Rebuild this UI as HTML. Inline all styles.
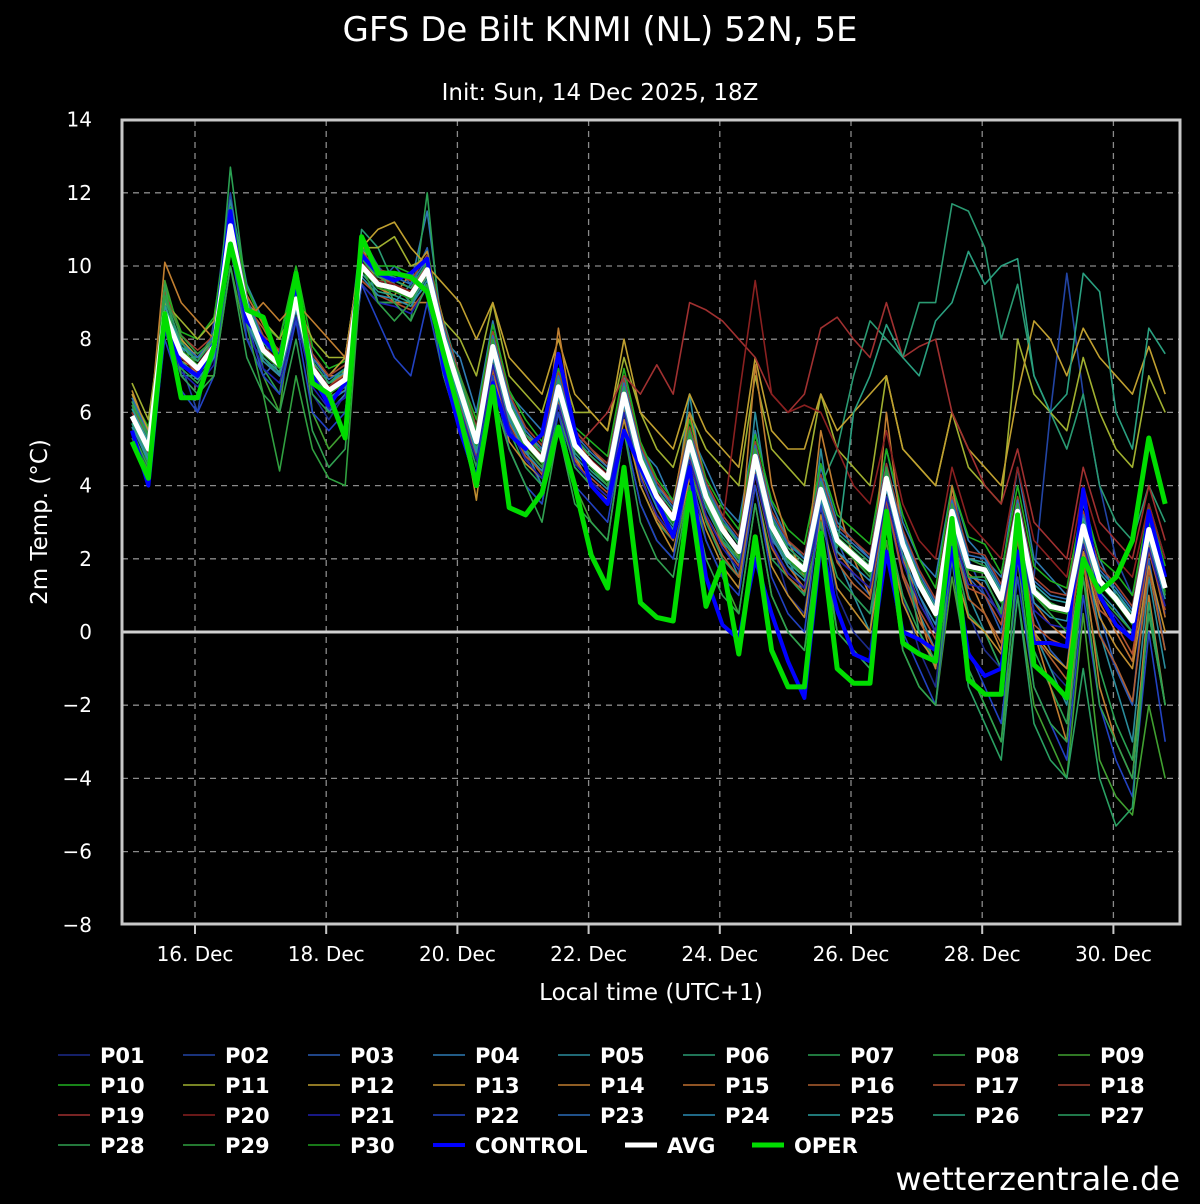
<!DOCTYPE html>
<html><head><meta charset="utf-8">
<style>
html,body{margin:0;padding:0;background:#000;}
body{width:1200px;height:1200px;overflow:hidden;font-family:"DejaVu Sans","Liberation Sans",sans-serif;}
svg text{font-family:"DejaVu Sans","Liberation Sans",sans-serif;fill:#fff;}
</style></head>
<body>
<svg id="chart" width="1200" height="1200" xmlns="http://www.w3.org/2000/svg">
<rect x="0" y="0" width="1200" height="1200" fill="#000"/>
<text x="600" y="41" font-size="34" text-anchor="middle">GFS De Bilt KNMI (NL) 52N, 5E</text>
<text x="600" y="100" font-size="23" text-anchor="middle">Init: Sun, 14 Dec 2025, 18Z</text>
<g id="grid"></g>
<g id="members"></g>
<g id="main"></g>
<rect x="122" y="120" width="1058" height="804" fill="none" stroke="#c8c8c8" stroke-width="3"/>
<g id="axes"></g>
<text transform="translate(47,522) rotate(-90)" font-size="23" text-anchor="middle">2m Temp. (°C)</text>
<text x="651" y="1000" font-size="23" text-anchor="middle">Local time (UTC+1)</text>
<g id="legend"></g>
<text x="1180" y="1190" font-size="32" text-anchor="end">wetterzentrale.de</text>
</svg>
<script>
const yTicks=[14,12,10,8,6,4,2,0,-2,-4,-6,-8];
const dayLabels=["16. Dec","18. Dec","20. Dec","22. Dec","24. Dec","26. Dec","28. Dec","30. Dec"];
const dayOffsets=[1,3,5,7,9,11,13,15];
const avg=[5.9,5.0,8.7,7.6,7.2,7.8,11.1,8.8,7.7,7.3,9.1,7.2,6.6,6.9,10.0,9.5,9.4,9.2,9.9,8.0,6.6,5.2,7.8,6.1,5.2,4.7,6.7,5.1,4.6,4.2,6.5,4.7,3.7,3.1,5.2,3.7,2.8,2.2,4.8,2.9,2.1,1.7,3.9,2.5,2.1,1.7,4.2,2.4,1.3,0.5,3.3,1.8,1.7,0.9,3.3,1.1,0.7,0.6,2.9,1.4,0.9,0.3,2.8,1.2];
const oper=[5.2,4.2,8.7,6.4,6.4,7.8,10.6,8.8,8.6,7.3,9.8,6.8,6.5,5.3,10.8,9.8,9.8,9.7,9.3,7.6,5.9,4.0,6.7,3.4,3.2,3.8,5.6,4.0,2.1,1.2,4.5,0.8,0.4,0.3,3.8,0.7,1.9,-0.6,2.6,-0.5,-1.5,-1.5,2.7,-1.0,-1.4,-1.4,3.3,-0.3,-0.6,-0.8,3.1,-1.3,-1.7,-1.7,3.2,-0.9,-1.3,-1.8,2.0,1.1,1.5,2.5,5.3,3.5];
const control=[5.5,4.0,8.5,7.3,7.0,7.9,11.5,8.5,8.0,7.5,9.5,7.0,6.2,6.8,10.3,9.8,9.6,9.8,10.2,7.2,5.5,4.2,6.8,5.4,5.0,5.4,7.6,5.5,4.0,3.5,5.5,4.5,3.6,2.6,4.5,1.5,0.2,-0.2,2.0,0.5,-0.8,-1.8,2.4,0.6,-0.6,-0.8,2.2,0.0,-0.2,-0.5,2.3,-0.6,-1.2,-1.0,2.2,-0.3,-0.3,-0.4,3.9,1.0,0.2,-0.2,3.3,1.5];
const P01=[6.0,4.8,9.0,7.0,6.5,7.5,11.5,8.0,7.5,7.0,9.5,6.5,5.8,6.5,10.5,9.0,8.5,9.0,10.2,7.5,6.0,4.5,7.0,5.5,4.8,4.0,6.0,4.5,4.0,3.5,6.0,4.0,3.0,2.5,5.0,3.0,2.0,1.5,4.5,2.5,1.0,0.5,3.5,1.0,0.0,-0.5,3.0,1.0,-0.5,-1.5,2.5,0.5,-0.5,-1.0,2.5,0.0,-1.0,-1.5,2.0,0.0,-1.0,-2.0,2.5,0.5];
const P02=[5.5,4.2,8.8,7.3,6.0,8.5,12.0,9.0,8.0,7.5,9.2,7.5,6.0,7.0,10.8,10.0,9.5,9.0,9.8,8.5,7.0,5.5,8.0,6.5,5.0,5.0,7.0,5.5,5.0,4.5,7.0,5.0,4.0,3.5,5.5,4.0,3.0,2.5,5.0,3.5,2.5,2.0,4.0,2.0,1.0,0.5,3.5,1.5,0.5,-0.5,4.0,2.0,1.0,0.5,3.0,1.5,6.0,9.8,6.5,4.0,2.0,1.0,3.0,1.0];
const P03=[6.5,5.5,9.5,8.0,7.5,8.0,10.5,8.5,7.0,7.5,8.5,7.0,6.5,7.0,10.0,9.5,10.0,9.5,10.5,8.0,6.5,5.0,8.0,6.0,5.5,5.0,7.5,5.5,5.0,4.5,6.5,5.0,4.0,3.0,5.0,3.5,2.5,2.0,5.0,2.5,2.0,1.5,4.0,2.5,1.5,1.0,4.5,2.5,1.0,0.0,3.5,1.5,1.0,0.0,3.5,0.5,-0.5,-1.0,3.0,0.5,-1.0,-2.0,2.0,-0.5];
const P04=[6.2,5.0,9.2,7.8,7.0,7.0,11.0,9.0,8.0,7.0,9.0,7.5,6.0,6.5,9.5,9.0,9.0,9.5,11.5,8.0,7.5,6.0,8.5,6.5,6.0,5.5,7.0,5.0,4.5,4.0,7.0,5.0,4.5,3.5,5.5,4.5,3.5,3.0,5.5,3.5,2.5,2.0,4.5,3.0,2.5,2.0,5.0,3.0,2.0,1.5,4.0,2.5,2.0,1.5,4.5,2.0,1.5,1.0,3.5,2.0,1.0,0.5,3.5,2.0];
const P05=[5.8,5.2,8.5,7.0,7.0,8.0,11.8,9.5,8.5,8.0,9.8,7.0,7.0,7.5,10.5,9.0,9.0,9.0,9.5,7.5,6.0,5.0,7.5,5.5,5.0,4.0,6.5,4.5,4.0,3.5,7.0,4.5,3.5,3.0,6.5,3.5,2.5,1.5,6.0,3.0,2.0,1.0,5.0,2.0,1.0,0.0,4.0,2.0,0.5,-0.5,3.0,1.0,0.0,-1.0,3.0,0.0,-1.0,-2.0,2.5,0.0,-1.5,-3.0,1.5,-1.0];
const P06=[6.0,5.5,9.0,7.5,7.5,8.0,10.8,8.5,7.5,7.0,9.0,7.0,6.8,7.0,11.0,10.5,9.5,9.0,9.5,8.5,7.0,5.5,8.0,6.5,5.5,5.0,7.0,5.0,4.5,4.0,6.0,4.5,3.5,3.0,5.0,3.5,3.0,2.5,4.5,3.0,2.5,2.0,4.0,5.0,7.0,8.5,8.0,7.5,9.0,9.0,11.7,11.5,10.5,8.0,9.5,7.0,6.0,5.0,6.5,4.0,3.0,2.5,4.0,3.0];
const P07=[5.7,4.6,8.3,7.2,6.8,7.5,12.7,9.2,7.2,6.5,9.5,6.5,6.0,6.0,9.5,9.0,9.0,8.5,12.0,7.5,6.0,4.5,7.5,5.5,4.5,4.0,6.0,4.5,4.0,3.5,6.0,4.0,3.0,2.5,4.5,3.0,2.0,1.5,4.0,2.0,1.5,1.0,3.0,1.5,1.0,0.5,3.0,1.0,0.0,-1.0,2.5,0.5,0.0,-1.0,2.0,-0.5,-1.5,-2.5,1.5,-1.0,-2.5,-3.5,0.5,-2.0];
const P08=[6.1,5.0,8.8,7.6,7.4,8.2,11.2,8.8,7.8,7.4,9.2,7.4,6.8,7.0,10.2,9.6,9.6,9.4,10.0,8.2,6.8,5.4,8.0,6.2,5.4,4.8,6.8,5.2,4.8,4.4,6.6,4.8,3.8,3.2,5.4,3.8,3.0,2.4,5.0,3.0,2.2,1.8,4.0,2.6,2.2,1.8,4.4,2.6,1.4,0.6,3.4,2.0,1.8,1.0,3.4,1.2,0.8,0.6,3.0,1.4,1.0,0.4,2.8,1.2];
const P09=[5.3,4.4,9.6,8.0,7.0,7.0,10.0,8.0,7.0,6.0,9.8,6.0,5.0,5.5,10.5,10.0,9.0,9.0,10.0,7.0,5.5,4.0,6.5,5.0,4.0,3.5,6.0,4.0,3.0,2.5,5.5,3.5,2.5,2.0,4.0,2.5,1.5,0.5,3.5,1.0,0.0,-0.5,2.5,0.0,-0.5,-1.0,2.5,-0.5,-1.5,-2.0,1.5,-1.0,-2.0,-3.0,1.0,-2.0,-3.0,-4.0,0.5,-3.5,-4.5,-5.0,-2.0,-4.0];
const P10=[6.4,5.6,9.4,8.2,8.0,8.6,11.6,9.4,8.4,8.0,10.0,7.8,7.2,7.4,10.6,10.0,10.0,9.8,10.4,8.4,7.0,5.8,8.4,6.6,5.8,5.2,7.2,5.6,5.2,4.8,7.2,5.2,4.2,3.6,5.8,4.2,3.4,2.8,5.4,3.6,2.8,2.4,4.6,3.2,2.8,2.4,5.0,3.2,2.0,1.2,4.0,2.6,2.4,1.6,4.0,1.8,1.4,1.2,3.6,2.0,1.6,1.0,3.4,1.8];
const P11=[6.8,5.8,9.0,8.5,8.0,8.5,10.5,9.0,8.5,8.0,9.0,8.0,7.5,7.5,10.5,10.5,10.8,10.0,10.2,8.5,8.0,7.0,9.0,7.0,6.5,6.0,7.5,6.0,6.0,5.5,7.5,6.0,5.0,4.5,6.0,5.0,4.5,4.0,7.0,5.0,4.5,4.0,6.5,5.0,4.5,4.0,7.0,5.0,4.5,4.0,6.0,4.5,4.0,3.5,8.0,6.5,6.0,5.5,7.5,6.0,5.0,4.5,7.0,6.0];
const P12=[6.5,5.5,8.5,8.0,7.5,8.0,11.0,9.0,8.0,7.5,9.5,7.5,7.0,7.5,10.5,11.0,11.2,10.5,10.0,9.5,9.0,8.0,9.0,7.5,7.0,6.5,8.0,6.5,6.0,5.5,8.0,6.0,5.5,5.0,6.5,5.5,5.0,4.5,7.5,5.5,5.0,5.0,6.5,5.5,6.0,6.5,7.0,5.0,4.5,4.0,6.0,5.0,4.5,4.0,6.5,8.5,8.0,7.0,8.3,7.5,7.0,6.5,7.8,6.5];
const P13=[6.6,5.4,8.6,7.4,7.2,8.0,11.4,8.6,7.6,7.2,9.4,7.4,6.4,7.2,10.6,9.4,9.2,9.8,10.4,7.8,6.2,3.6,7.2,5.2,4.6,4.2,6.6,4.8,4.0,3.6,5.8,4.0,3.0,2.2,4.2,2.8,1.8,1.2,4.0,1.8,1.0,0.4,3.2,1.2,0.6,0.0,2.8,0.8,-0.2,-0.8,2.0,0.4,0.0,-0.6,2.2,0.0,-0.6,-1.0,2.2,0.4,-0.4,-1.0,1.8,0.0];
const P14=[6.0,5.2,10.1,9.0,8.5,8.0,10.5,8.5,9.0,8.5,9.0,8.5,8.0,7.5,10.0,9.5,9.0,9.0,9.0,8.0,6.5,5.0,7.5,6.0,5.0,4.5,8.3,5.5,5.0,4.5,6.5,5.0,4.0,3.5,6.0,4.0,3.0,2.0,7.3,4.0,2.5,1.5,5.5,3.5,2.0,1.0,6.0,2.5,0.5,-1.0,4.0,1.5,0.5,-0.5,3.5,0.0,-1.5,-3.0,2.0,-1.5,-3.0,-4.0,1.0,-2.0];
const P15=[5.9,5.0,8.6,7.6,7.0,7.6,11.2,9.2,8.4,7.6,9.6,7.6,7.0,7.0,10.4,9.8,9.6,9.4,10.0,8.4,6.4,5.2,8.2,6.2,5.4,5.0,6.8,5.4,4.6,4.2,6.6,4.8,3.4,2.6,5.4,3.6,2.4,1.8,4.6,2.6,1.8,1.2,3.8,2.2,1.6,1.2,4.4,2.0,0.8,0.0,3.6,1.6,1.2,0.4,3.2,0.8,0.2,-0.2,2.6,0.8,0.0,-0.8,2.4,0.4];
const P16=[6.3,5.1,8.9,7.7,7.3,7.9,11.3,8.9,8.3,7.5,9.3,7.3,6.7,7.1,10.3,9.7,9.5,9.3,9.7,7.9,6.1,4.9,7.5,5.7,4.9,4.3,6.3,4.7,4.1,3.7,6.1,4.3,3.1,2.5,4.7,3.1,2.1,1.5,4.3,2.3,1.5,1.1,3.5,1.9,1.3,0.9,3.7,1.5,0.3,-0.5,2.7,0.9,0.5,-0.3,2.5,-0.1,-0.7,-1.3,1.9,-0.1,-0.9,-1.9,1.7,-0.5];
const P17=[5.6,4.8,8.4,7.4,7.0,7.6,10.8,8.6,7.4,7.0,8.8,6.8,6.4,6.6,9.6,9.2,9.0,8.8,9.4,7.6,6.2,4.8,7.2,5.6,4.8,4.4,6.2,4.6,4.2,3.8,6.0,4.2,3.2,2.6,4.8,3.2,2.4,1.8,4.4,2.4,1.6,1.2,3.4,2.0,1.6,1.2,3.6,1.6,0.6,-0.2,3.0,1.2,1.0,0.2,2.8,0.2,-0.2,-0.4,2.4,0.6,0.2,-0.6,2.2,0.6];
const P18=[6.2,5.3,9.3,8.1,7.7,8.1,11.5,9.1,8.1,7.7,9.5,7.6,7.0,7.3,10.4,9.9,9.8,9.6,10.3,8.4,7.0,5.6,8.2,6.5,5.6,5.1,7.1,5.5,5.0,4.6,6.9,5.1,4.1,3.5,5.6,4.1,3.2,2.6,5.2,3.3,2.5,2.1,4.3,2.9,2.5,2.1,4.6,2.8,1.7,0.9,3.7,2.2,2.1,1.3,3.7,1.5,1.1,1.0,3.3,1.8,1.3,0.7,3.2,1.6];
const P19=[5.8,4.9,8.5,7.5,7.1,7.7,10.9,8.7,7.6,7.2,9.0,7.1,6.5,6.8,10.0,9.4,9.3,9.1,9.8,7.9,6.5,5.1,7.7,6.0,5.1,4.6,6.6,5.0,5.5,6.0,7.0,6.5,7.3,6.5,9.0,8.8,8.5,8.0,7.5,6.5,6.0,6.5,8.3,8.6,8.0,7.5,9.0,7.5,7.8,8.0,6.0,5.0,4.0,3.5,5.0,3.0,2.5,2.0,4.5,3.0,2.5,2.0,4.0,2.5];
const P20=[6.0,5.1,8.8,7.7,7.3,7.9,11.2,8.9,7.8,7.4,9.2,7.3,6.7,7.0,10.1,9.6,9.5,9.3,10.0,8.1,6.7,5.3,7.9,6.2,5.3,4.8,6.8,5.2,4.7,4.3,6.6,4.8,3.8,3.2,5.3,3.8,2.9,6.4,9.6,6.5,6.0,6.2,6.0,5.0,4.0,3.5,5.5,3.5,2.5,2.0,4.5,3.0,2.5,2.0,4.5,2.5,2.0,1.5,4.0,2.5,2.0,1.5,3.5,2.0];
const P21=[5.4,4.5,8.2,7.1,6.7,7.3,10.6,8.3,7.2,6.8,8.6,6.7,6.1,6.4,9.5,9.0,8.9,8.7,9.4,7.5,6.1,4.7,7.3,5.6,4.7,4.2,6.2,4.6,4.1,3.7,6.0,4.2,3.2,2.6,4.7,3.2,2.3,1.7,4.3,2.4,1.6,1.2,3.4,2.0,1.6,1.2,3.7,1.9,0.8,0.0,2.8,1.3,1.2,0.4,2.8,0.6,0.2,0.1,2.4,0.9,0.4,-0.2,2.3,0.7];
const P22=[5.2,4.1,8.0,6.6,6.0,7.0,10.5,8.0,7.0,6.5,8.5,6.0,5.5,6.0,9.5,8.5,7.5,7.0,9.0,7.0,5.5,4.0,7.0,5.0,4.0,3.5,6.0,4.0,3.5,3.0,5.5,3.5,2.5,2.0,4.5,2.5,1.5,1.0,4.0,1.5,0.5,0.0,3.5,0.5,-0.5,-1.0,3.0,0.0,-1.0,-2.0,2.0,-0.5,-1.5,-2.5,1.5,-1.5,-2.5,-3.5,1.0,-2.0,-3.5,-4.5,0.0,-3.0];
const P23=[6.4,5.4,9.1,7.9,7.5,8.1,11.4,9.1,8.0,7.6,9.4,7.5,6.9,7.2,10.3,9.8,9.7,9.5,10.2,8.3,6.9,5.5,8.1,6.4,5.5,5.0,7.0,5.4,4.9,4.5,6.8,5.0,4.0,3.4,5.5,4.0,3.1,2.5,5.1,3.2,2.4,2.0,4.2,2.8,2.4,2.0,4.5,2.7,1.6,0.8,3.6,2.1,2.0,1.2,3.6,1.4,1.0,0.9,3.2,1.7,1.2,0.6,3.1,1.5];
const P24=[5.6,4.7,8.4,7.3,6.9,7.5,10.8,8.5,7.4,7.0,8.8,6.9,6.3,6.6,9.7,9.2,9.1,8.9,9.6,7.7,6.3,4.9,7.5,5.8,4.9,4.4,6.4,4.8,4.3,3.9,6.2,4.4,3.4,2.8,4.9,3.4,2.5,1.9,4.5,2.6,1.8,1.4,3.6,2.2,1.8,1.4,3.9,2.1,1.0,0.2,3.0,1.5,1.4,0.6,3.0,0.8,0.4,0.3,2.6,1.1,0.6,0.0,2.5,0.9];
const P25=[6.1,5.2,8.9,7.8,7.4,8.0,11.3,9.0,7.9,7.5,9.3,7.4,6.8,7.1,10.2,9.7,9.6,9.4,10.1,8.2,6.8,5.4,8.0,6.3,5.4,4.9,6.9,5.3,4.8,4.4,6.7,4.9,3.9,3.3,5.4,3.9,3.0,2.4,5.0,3.1,2.3,1.9,4.1,2.7,2.3,1.9,4.4,2.6,1.5,0.7,3.5,2.0,1.9,1.1,3.5,1.3,0.9,0.8,3.1,1.6,1.1,0.5,3.0,1.4];
const P26=[5.7,4.8,8.5,7.4,7.0,7.6,10.9,8.6,7.5,7.1,8.9,7.0,6.4,6.7,9.8,9.3,9.2,9.0,9.7,7.8,6.4,5.0,7.6,5.9,5.0,4.5,6.5,4.9,4.4,4.0,6.3,4.5,3.5,2.9,5.0,3.5,2.6,2.0,4.6,2.7,1.9,1.5,3.7,2.3,6.0,7.0,8.4,7.5,7.0,8.5,9.0,10.4,9.5,10.0,10.2,7.0,6.0,6.5,9.8,9.3,6.0,5.0,8.3,7.6];
const P27=[6.3,5.3,9.1,7.9,7.4,8.0,11.3,9.0,7.9,7.5,9.4,7.4,6.8,7.2,10.2,9.7,9.6,9.4,10.1,8.2,6.8,5.4,8.0,6.3,5.4,4.9,6.9,5.3,4.8,4.4,6.7,4.9,3.9,3.3,5.4,3.9,3.0,2.4,5.0,3.1,2.3,1.9,4.1,2.7,2.3,1.9,4.4,2.4,0.0,-0.8,2.0,-1.5,-2.5,-3.5,1.0,-2.5,-3.5,-4.0,-1.0,-4.0,-5.3,-4.8,0.8,-2.0];
const P28=[5.5,4.5,9.5,7.0,6.5,7.0,10.0,7.5,6.5,6.0,8.0,5.5,4.5,5.0,10.5,10.0,9.0,8.5,9.5,7.0,5.5,4.0,6.5,5.0,4.0,3.0,5.5,3.5,3.0,2.5,5.5,3.0,2.0,1.5,4.0,2.0,1.0,0.5,3.5,1.0,0.0,-0.5,3.0,0.0,-0.5,-1.0,3.0,-0.5,-1.5,-2.0,2.5,-1.0,-2.0,-3.0,2.0,-1.5,-2.5,-3.0,1.5,-2.0,-3.0,-4.0,0.5,-2.0];
const P29=[6.2,5.4,9.2,8.1,7.6,8.0,11.5,8.4,6.5,4.4,7.0,5.0,4.2,4.0,10.0,9.0,8.5,9.0,10.0,8.0,7.0,5.5,8.0,6.0,5.0,4.5,6.5,5.0,4.5,4.0,6.5,4.5,3.5,3.0,5.5,3.5,2.5,2.0,5.0,3.0,2.0,1.5,4.0,2.5,2.0,1.5,4.5,2.5,1.5,0.5,3.5,1.5,1.5,0.5,3.5,1.0,0.5,0.0,3.0,1.0,0.5,0.0,3.0,1.0];
const P30=[5.9,5.1,8.7,7.7,7.3,7.7,11.0,8.7,7.6,7.2,9.0,7.1,6.5,6.8,9.9,9.4,9.3,9.1,9.8,7.9,6.5,5.1,7.7,6.0,5.1,4.6,6.6,5.0,4.5,4.1,6.4,4.6,3.6,3.0,5.1,3.6,2.7,2.1,4.7,2.8,2.0,1.6,3.8,2.4,2.0,1.6,4.1,2.3,1.2,0.4,3.2,1.7,1.6,0.8,3.2,1.0,0.6,0.5,2.8,1.3,0.8,0.2,2.7,1.1];
const members=[P01,P02,P03,P04,P05,P06,P07,P08,P09,P10,P11,P12,P13,P14,P15,P16,P17,P18,P19,P20,P21,P22,P23,P24,P25,P26,P27,P28,P29,P30];
const memberColors=["#1c2a8a","#2244a4","#2a5cb4","#2e7ab2","#2a8c9c","#2a9a72","#2aa052","#30a042","#40a030","#20b020","#a0b030","#c0a030","#c08e30","#c07e30","#c07030","#b06030","#b05030","#a04030","#a03030","#8a2020","#2020b0","#2242c2","#2a6cb8","#2a8cb2","#2aa0a0","#2aa080","#2aa062","#30a050","#30a040","#20a020"];

const NS="http://www.w3.org/2000/svg";
const X0=132, STEP=16.4, Y0=632, PXU=36.6;
function xScale(i){return X0+STEP*i;}
function yScale(v){return Y0-v*PXU;}
function dayX(d){return 129.4+65.6*d;}
function mk(tag,attrs,parent){const e=document.createElementNS(NS,tag);for(const k in attrs)e.setAttribute(k,attrs[k]);parent.appendChild(e);return e;}
function pts(arr){return arr.map((v,i)=>xScale(i).toFixed(1)+","+yScale(v).toFixed(1)).join(" ");}

const grid=document.getElementById("grid");
const axes=document.getElementById("axes");
yTicks.forEach(t=>{
  const y=yScale(t);
  if(t!==14&&t!==-8){
    const l=mk("line",{x1:122,x2:1180,y1:y,y2:y,stroke:"#8a8a8a","stroke-width":1.3,"stroke-dasharray":"6,5"},grid);
    
    
  }
  const tx=mk("text",{x:92,y:y+7,"font-size":20,"text-anchor":"end"},axes);
  tx.textContent=t<0?"\u2212"+Math.abs(t):String(t);
  
  
});
dayOffsets.forEach((d,k)=>{
  const x=dayX(d);
  const l=mk("line",{x1:x,x2:x,y1:120,y2:924,stroke:"#8a8a8a","stroke-width":1.3,"stroke-dasharray":"6,5"},grid);
  
  
  const tk=mk("line",{x1:x,x2:x,y1:924,y2:934,stroke:"#c8c8c8","stroke-width":2},axes);
  
  
  const tx=mk("text",{x:x,y:961,"font-size":20,"text-anchor":"middle"},axes);
  tx.textContent=dayLabels[k];
  
  
});
const zl=mk("line",{x1:122,x2:1180,y1:yScale(0),y2:yScale(0),stroke:"#d0d0d0","stroke-width":3},grid);



const mg=document.getElementById("members");
members.forEach((arr,k)=>{
  const p=mk("polyline",{points:pts(arr),fill:"none",stroke:memberColors[k],"stroke-width":1.6,"stroke-linejoin":"round"},mg);
  
  
});
const mainG=document.getElementById("main");
const cl=mk("polyline",{points:pts(control),fill:"none",stroke:"#0000ff","stroke-width":4,"stroke-linejoin":"round"},mainG);


const al=mk("polyline",{points:pts(avg),fill:"none",stroke:"#ffffff","stroke-width":5,"stroke-linejoin":"round"},mainG);


const ol=mk("polyline",{points:pts(oper),fill:"none",stroke:"#00dd00","stroke-width":5,"stroke-linejoin":"round"},mainG);



const lg=document.getElementById("legend");
const entries=[];
for(let k=0;k<30;k++)entries.push({n:"P"+String(k+1).padStart(2,"0"),c:memberColors[k],w:1.6});
entries.push({n:"CONTROL",c:"#0000ff",w:4});
entries.push({n:"AVG",c:"#ffffff",w:5});
entries.push({n:"OPER",c:"#00dd00",w:5});
entries.forEach((e,k)=>{
  const row=Math.floor(k/9), col=k%9;
  let x=58+125*col;
  if(k===31)x=625;
  if(k===32)x=752;
  const y=1055+30*row;
  const g=mk("g",{},lg);
  
  
  mk("line",{x1:x,x2:x+32,y1:y,y2:y,stroke:e.c,"stroke-width":e.w},g);
  const t=mk("text",{x:x+42,y:y+8,"font-size":21,"font-weight":"bold"},g);
  t.textContent=e.n;
});
</script>
</body></html>
